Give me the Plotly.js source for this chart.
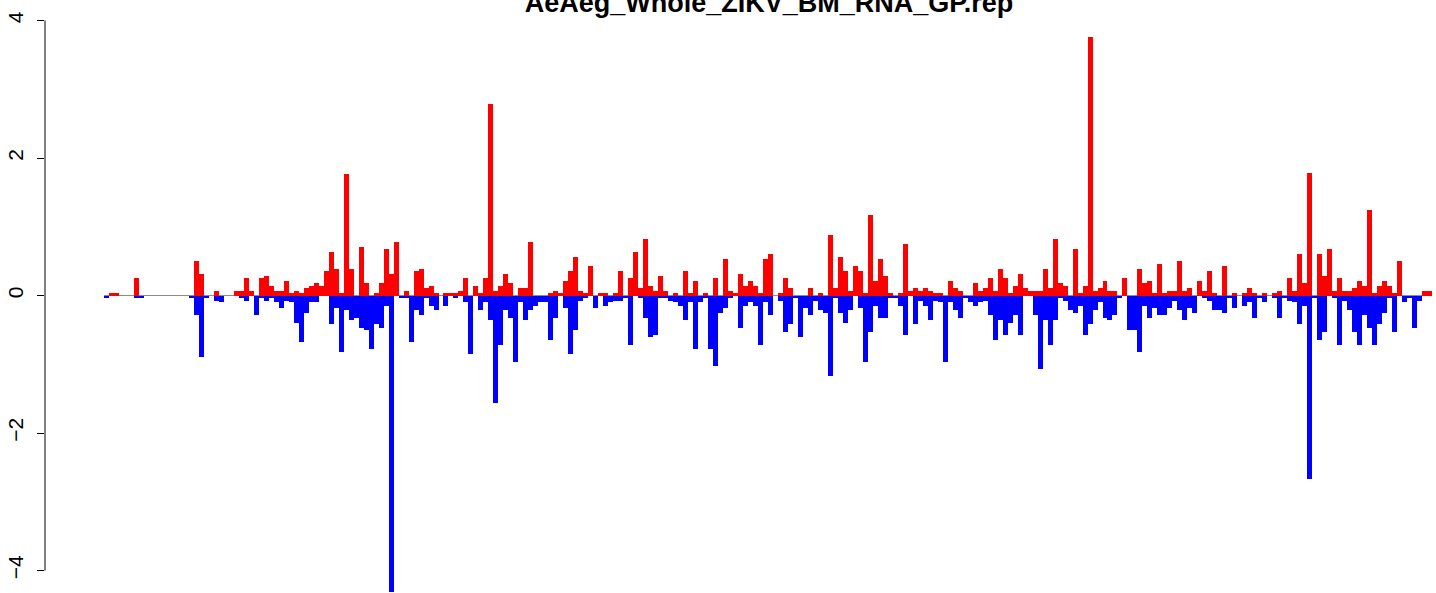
<!DOCTYPE html>
<html>
<head>
<meta charset="utf-8">
<script src="https://cdn.plot.ly/plotly-3.0.1.min.js"></script>
<style>html,body{margin:0;padding:0;background:#fff;}#chart{width:1436px;height:593px;}</style>
</head>
<body>
<div id="chart"></div>
<script>
// Chart title
const chartTitle = "AeAeg_Whole_ZIKV_BM_RNA_GP.rep";

// Positive (red) values per position
const redValues = [
  0, 0.035, 0.035, 0, 0, 0, 0.255, 0, 0, 0,
  0, 0, 0, 0, 0, 0, 0, 0, 0.50, 0.31,
  0, 0, 0.065, 0, 0, 0, 0.065, 0.065, 0.255, 0.065,
  0, 0.255, 0.28, 0.14, 0.065, 0.065, 0.21, 0.035, 0.065, 0.035,
  0.11, 0.14, 0.18, 0.14, 0.355, 0.63, 0.385, 0.035, 1.77, 0.385,
  0, 0.705, 0.18, 0, 0.035, 0.18, 0.68, 0.31, 0.78, 0,
  0.065, 0, 0.355, 0.385, 0.11, 0.14, 0.035, 0, 0.035, 0.035,
  0.035, 0.065, 0.255, 0, 0.14, 0.035, 0.255, 2.785, 0.065, 0.14,
  0.31, 0.18, 0, 0.11, 0.11, 0.78, 0, 0, 0, 0.035,
  0.065, 0.035, 0.21, 0.355, 0.56, 0.065, 0.035, 0.43, 0, 0.035,
  0.035, 0, 0.035, 0.355, 0, 0.255, 0.63, 0.11, 0.82, 0.14,
  0.065, 0.28, 0.065, 0, 0.035, 0, 0.355, 0.035, 0.21, 0,
  0.035, 0, 0.255, 0, 0.53, 0.065, 0.035, 0.31, 0.14, 0.21,
  0.14, 0.035, 0.53, 0.60, 0, 0.035, 0.255, 0.11, 0, 0,
  0, 0.11, 0, 0.035, 0, 0.88, 0.11, 0.56, 0.355, 0.065,
  0.43, 0.355, 0.035, 1.17, 0.21, 0.53, 0.28, 0.035, 0, 0.035,
  0.75, 0.065, 0.11, 0.065, 0.11, 0.065, 0.035, 0.035, 0, 0.21,
  0.11, 0.065, 0, 0, 0.18, 0.065, 0.11, 0.255, 0.065, 0.385,
  0.255, 0.035, 0.14, 0.31, 0.11, 0.065, 0.065, 0.065, 0.385, 0.11,
  0.82, 0.18, 0.14, 0, 0.68, 0.035, 0.14, 3.76, 0.065, 0.11,
  0.21, 0.065, 0.065, 0, 0.255, 0, 0, 0.385, 0.18, 0.21,
  0.035, 0.46, 0.035, 0.065, 0.065, 0.50, 0.065, 0.11, 0, 0.21,
  0.065, 0.355, 0.035, 0, 0.43, 0, 0.035, 0, 0.035, 0.11,
  0.035, 0, 0.035, 0, 0.035, 0.065, 0, 0.255, 0.065, 0.60,
  0.18, 1.78, 0, 0.60, 0.28, 0.68, 0.065, 0.255, 0.065, 0.065,
  0.11, 0.21, 0.14, 1.245, 0.035, 0.14, 0.21, 0.14, 0.035, 0.50,
  0, 0, 0, 0, 0.065, 0.065
];

// Negative (blue) values per position
const blueValues = [
  -0.03, 0, 0, 0, 0, 0, -0.03, -0.03, 0, 0,
  0, 0, 0, 0, 0, 0, 0, -0.03, -0.28, -0.89,
  -0.03, 0, -0.075, -0.10, 0, 0, 0, -0.03, -0.075, 0,
  -0.28, -0.03, -0.075, -0.03, -0.10, -0.18, -0.075, -0.10, -0.40, -0.67,
  -0.25, -0.10, -0.10, 0, 0, -0.42, -0.18, -0.82, -0.21, -0.35,
  -0.32, -0.47, -0.50, -0.775, -0.42, -0.47, -0.15, -4.31, 0, -0.03,
  -0.03, -0.67, -0.21, -0.28, -0.03, -0.15, -0.21, 0, -0.15, 0,
  -0.03, 0, -0.10, -0.85, 0, -0.21, -0.10, -0.35, -1.56, -0.72,
  -0.21, -0.32, -0.96, -0.10, -0.35, -0.21, -0.15, -0.10, -0.10, -0.645,
  -0.32, 0, -0.18, -0.85, -0.50, -0.075, -0.03, 0, -0.18, 0,
  -0.15, -0.10, -0.075, -0.075, -0.03, -0.72, 0, -0.03, -0.32, -0.60,
  -0.57, -0.03, -0.03, -0.075, -0.10, -0.15, -0.35, -0.10, -0.775, -0.10,
  -0.03, -0.775, -1.02, -0.25, -0.18, -0.03, 0, -0.47, -0.15, -0.10,
  -0.15, -0.72, -0.10, -0.28, 0, -0.075, -0.53, -0.42, -0.03, -0.60,
  -0.18, -0.28, -0.075, -0.21, -0.25, -1.165, -0.03, -0.25, -0.40, -0.21,
  0, -0.18, -0.96, -0.53, -0.15, -0.32, -0.32, -0.03, -0.03, -0.15,
  -0.57, 0, -0.42, -0.075, -0.15, -0.35, -0.075, -0.10, -0.96, -0.10,
  -0.21, -0.32, -0.03, -0.10, -0.15, -0.10, -0.075, -0.28, -0.645, -0.35,
  -0.57, -0.40, -0.28, -0.57, 0, 0, -0.28, -1.065, -0.35, -0.72,
  -0.35, -0.03, -0.075, -0.21, -0.25, -0.15, -0.57, -0.42, -0.21, -0.10,
  -0.32, -0.35, -0.28, -0.03, 0, -0.50, -0.50, -0.82, -0.15, -0.32,
  -0.18, -0.28, -0.28, -0.18, -0.075, -0.21, -0.35, -0.18, -0.25, 0,
  -0.03, -0.075, -0.21, -0.21, -0.25, -0.03, -0.18, 0, -0.15, -0.10,
  -0.32, -0.03, -0.10, 0, -0.03, -0.32, -0.03, -0.075, -0.10, -0.42,
  -0.15, -2.67, -0.03, -0.645, -0.53, 0, -0.03, -0.72, -0.075, -0.21,
  -0.53, -0.72, -0.28, -0.47, -0.72, -0.42, -0.25, -0.03, -0.53, 0,
  -0.10, -0.03, -0.47, -0.075, 0, 0
];

// Y axis ticks
const yTickValues = [-4, -2, 0, 2, 4];
const yTickLabels = ["\u22124", "\u22122", "0", "2", "4"];

const positions = redValues.map((_, i) => i);
const nPos = positions.length;

const traces = [
  { type: 'bar', x: positions, y: redValues, marker: { color: '#FF0000', line: { width: 0 } }, hoverinfo: 'skip', showlegend: false },
  { type: 'bar', x: positions, y: blueValues, marker: { color: '#0000FF', line: { width: 0 } }, hoverinfo: 'skip', showlegend: false }
];

const layout = {
  width: 1436, height: 593,
  margin: { l: 45, r: 4, t: 0, b: 0, pad: 0 },
  paper_bgcolor: '#ffffff', plot_bgcolor: '#ffffff',
  font: { family: 'Liberation Sans, Arial, sans-serif', color: '#000000' },
  barmode: 'overlay', bargap: 0,
  title: {
    text: '<b>' + chartTitle + '</b>',
    font: { size: 27, family: 'Liberation Sans, Arial, sans-serif', color: '#000' },
    xref: 'container', x: 769 / 1436, xanchor: 'center',
    yref: 'container', y: 1 - 12 / 593, yanchor: 'bottom'
  },
  xaxis: {
    range: [-12.318, nPos - 0.5],
    showgrid: false, zeroline: false, showline: false, showticklabels: false, ticks: ''
  },
  yaxis: {
    range: [-4.327, 4.298],
    tickvals: yTickValues, ticktext: yTickLabels,
    ticks: 'outside', ticklen: 7, tickwidth: 1, tickcolor: '#000',
    tickangle: -90, tickfont: { size: 21 },
    ticklabelstandoff: 6,
    showgrid: false, zeroline: false, showline: false
  },
  shapes: [
    { type: 'line', xref: 'x', yref: 'y', x0: -0.5, x1: nPos - 0.5, y0: 0, y1: 0, line: { color: '#8c8c8c', width: 1 }, layer: 'below' },
    { type: 'line', xref: 'paper', yref: 'y', x0: 0, x1: 0, y0: Math.min(...yTickValues), y1: Math.max(...yTickValues), line: { color: '#000', width: 1 } }
  ]
};

Plotly.newPlot('chart', traces, layout, { staticPlot: true, displayModeBar: false });
</script>
</body>
</html>
